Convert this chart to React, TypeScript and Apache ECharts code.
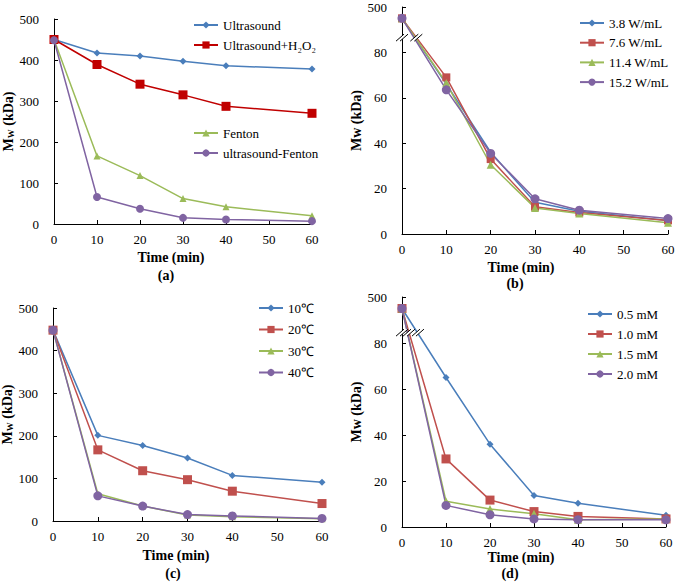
import React, { useEffect, useRef } from 'react';
import * as echarts from 'echarts';

// ---------- data ----------
const time = [0, 10, 20, 30, 40, 60];

// (a) treatment comparison, Mw (kDa)
const aUltrasound = [450, 417, 410, 397, 386, 378];
const aUltrasoundH2O2 = [450, 389, 341, 315, 287, 270];
const aFenton = [450, 166, 118, 62, 42, 20];
const aUltrasoundFenton = [448, 66, 37, 15, 11, 7];

// (b) ultrasound power density
const b38 = [450, 66, 36, 14, 10, 6];
const b76 = [450, 69, 33, 12, 9.5, 6];
const b114 = [450, 66.5, 30.5, 11.5, 9, 5];
const b152 = [450, 63.5, 35.5, 15.5, 10.5, 6.8];

// (c) temperature
const c10 = [448, 201, 177, 148, 107, 91];
const c20 = [448, 167, 118, 97, 70, 41];
const c30 = [448, 64, 35, 14, 10, 5];
const c40 = [448, 59, 35, 15, 12, 6];

// (d) Fe2+ concentration
const d05 = [450, 65, 36, 13.7, 10.3, 5.1];
const d10 = [450, 29.6, 11.7, 6.7, 4.6, 3.5];
const d15 = [450, 11.2, 7.8, 5.8, 3.2, 3.5];
const d20 = [450, 9.4, 5.3, 3.5, 3.2, 3.1];

const legendA1 = ['Ultrasound', 'Ultrasound+H₂O₂'];
const legendA2 = ['Fenton', 'ultrasound-Fenton'];
const legendB = ['3.8 W/mL', '7.6 W/mL', '11.4 W/mL', '15.2 W/mL'];
const legendC = ['10℃', '20℃', '30℃', '40℃'];
const legendD = ['0.5 mM', '1.0 mM', '1.5 mM', '2.0 mM'];

// broken y axis for (b),(d): 0..80 linear, then 300..500 compressed into 80..100
const BREAK_LOW = 80;
const BREAK_HIGH = 300;
const BREAK_RATIO = 10;
const toAxis = (v: number) => (v <= BREAK_LOW ? v : BREAK_LOW + (v - BREAK_HIGH) / BREAK_RATIO);
const fromAxis = (a: number) => (a <= BREAK_LOW ? a : BREAK_HIGH + (a - BREAK_LOW) * BREAK_RATIO);

const FONT = 'Liberation Serif, Times New Roman, serif';
const BLUE = '#4A7EBB';
const RED_A = '#C00000';
const RED = '#C0504D';
const GREEN = '#9BBB59';
const PURPLE = '#8064A2';

function mk(name: string, vals: number[], color: string, symbol: string, size: number, idx: number, broken = false) {
  return {
    name,
    type: 'line',
    xAxisIndex: idx,
    yAxisIndex: idx,
    data: time.map((t, i) => [t, broken ? toAxis(vals[i]) : vals[i]]),
    symbol,
    symbolSize: size,
    showSymbol: true,
    lineStyle: { color, width: 1.5 },
    itemStyle: { color, borderWidth: 0 },
    emphasis: { disabled: true },
  };
}

const grids = [
  { left: 54, top: 19, width: 258, height: 205 },
  { left: 402, top: 7, width: 266, height: 227 },
  { left: 53, top: 308, width: 269, height: 213 },
  { left: 402, top: 297, width: 264, height: 230 },
];

const axisLineStyle = { lineStyle: { color: '#000', width: 1 } };
const labelStyle = { fontFamily: FONT, fontSize: 13, color: '#000' };

function xAxis(i: number) {
  return {
    type: 'value',
    gridIndex: i,
    min: 0,
    max: 60,
    interval: 10,
    axisLine: { show: true, ...axisLineStyle },
    axisTick: { show: true, inside: true, length: 4, lineStyle: { color: '#000' } },
    axisLabel: { ...labelStyle, margin: 9 },
    splitLine: { show: false },
  };
}

function yAxis(i: number, broken: boolean) {
  const sub = broken
    ? { name: 'Mw (kDa)' }
    : { name: 'M{sub|W} (kDa)' };
  return {
    type: 'value',
    gridIndex: i,
    min: 0,
    max: broken ? 100 : 500,
    interval: broken ? 20 : 100,
    ...sub,
    nameLocation: 'middle',
    nameGap: broken ? 36 : 38,
    nameTextStyle: {
      fontFamily: FONT,
      fontSize: 14,
      fontWeight: 'bold',
      color: '#000',
      rich: { sub: { fontFamily: FONT, fontSize: 9, fontWeight: 'bold', color: '#000', verticalAlign: 'bottom', padding: [5, 0, 0, 0] } },
    },
    axisLine: { show: true, ...axisLineStyle },
    axisTick: { show: true, inside: true, length: 4, lineStyle: { color: '#000' } },
    axisLabel: {
      ...labelStyle,
      margin: 15,
      formatter: (v: number) => (broken ? String(fromAxis(v)) : String(v)),
    },
    splitLine: { show: false },
  };
}

function legend(data: string[], left: number, top: number, gap: number) {
  return {
    data,
    left,
    top,
    padding: 0,
    orient: 'vertical',
    itemWidth: 24,
    itemHeight: 9,
    itemGap: gap,
    selectedMode: false,
    textStyle: { fontFamily: FONT, fontSize: 13, color: '#000', lineHeight: 14 },
  };
}

function titleText(text: string, x: number, y: number) {
  return {
    type: 'text',
    x,
    y,
    style: { text, fontFamily: FONT, fontSize: 14, fontWeight: 'bold', fill: '#000', align: 'center', verticalAlign: 'middle' },
  };
}

function breakMark(cx: number, cy: number) {
  return {
    type: 'group',
    z: 100,
    children: [
      { type: 'polygon', z: 100, shape: { points: [[cx - 6, cy + 3.5], [cx + 2, cy - 3.5], [cx + 6, cy - 3.5], [cx - 2, cy + 3.5]] }, style: { fill: '#fff', stroke: null } },
      { type: 'line', z: 101, shape: { x1: cx - 6, y1: cy + 3.5, x2: cx + 2, y2: cy - 3.5 }, style: { stroke: '#000', lineWidth: 1 } },
      { type: 'line', z: 101, shape: { x1: cx - 2, y1: cy + 3.5, x2: cx + 6, y2: cy - 3.5 }, style: { stroke: '#000', lineWidth: 1 } },
    ],
  };
}

export default function App() {
  const ref = useRef<HTMLDivElement>(null);
  useEffect(() => {
    if (!ref.current) return;
    const chart = echarts.init(ref.current, undefined, { renderer: 'svg' });
    const option: any = {
      animation: false,
      backgroundColor: '#fff',
      textStyle: { fontFamily: FONT },
      grid: grids.map((g) => ({ ...g, containLabel: false, outerBoundsMode: 'none' })),
      xAxis: [0, 1, 2, 3].map((i) => xAxis(i)),
      yAxis: [yAxis(0, false), yAxis(1, true), yAxis(2, false), yAxis(3, true)],
      legend: [
        legend(legendA1, 193, 18, 6),
        legend(legendA2, 193, 126, 6),
        legend(legendB, 579, 16, 5.7),
        legend(legendC, 258, 301, 7.5),
        legend(legendD, 587, 307, 6),
      ],
      series: [
        mk(legendA1[0], aUltrasound, BLUE, 'diamond', 7, 0),
        mk(legendA1[1], aUltrasoundH2O2, RED_A, 'rect', 9, 0),
        mk(legendA2[0], aFenton, GREEN, 'triangle', 7, 0),
        mk(legendA2[1], aUltrasoundFenton, PURPLE, 'circle', 8, 0),
        mk(legendB[0], b38, BLUE, 'diamond', 6, 1, true),
        mk(legendB[1], b76, RED, 'rect', 8, 1, true),
        mk(legendB[2], b114, GREEN, 'triangle', 8, 1, true),
        mk(legendB[3], b152, PURPLE, 'circle', 9, 1, true),
        mk(legendC[0], c10, BLUE, 'diamond', 7, 2),
        mk(legendC[1], c20, RED, 'rect', 9, 2),
        mk(legendC[2], c30, GREEN, 'triangle', 7, 2),
        mk(legendC[3], c40, PURPLE, 'circle', 9, 2),
        mk(legendD[0], d05, BLUE, 'diamond', 7, 3, true),
        mk(legendD[1], d10, RED, 'rect', 9, 3, true),
        mk(legendD[2], d15, GREEN, 'triangle', 8, 3, true),
        mk(legendD[3], d20, PURPLE, 'circle', 9, 3, true),
      ],
    };
    chart.setOption(option);

    const px = (gridIndex: number, p: number[]) => chart.convertToPixel({ gridIndex } as any, p) as number[];
    const b1 = px(1, [0, 86.5]);
    const b2 = px(1, [3, 86.5]);
    const d1 = px(3, [0, 84.5]);
    const d2 = px(3, [1.6, 84.5]);
    const d3 = px(3, [3.4, 84.5]);

    chart.setOption({
      graphic: [
        titleText('Time (min)', 171, 257),
        titleText('(a)', 166, 275),
        titleText('Time (min)', 521, 267),
        titleText('(b)', 515, 283),
        titleText('Time (min)', 176, 555),
        titleText('(c)', 173, 573),
        titleText('Time (min)', 521, 557),
        titleText('(d)', 510, 573),
        breakMark(b1[0], b1[1]),
        breakMark(b2[0] + 1, b2[1]),
        breakMark(d1[0], d1[1]),
        breakMark(d2[0], d2[1]),
        breakMark(d3[0] + 1, d3[1]),
      ],
    });
    return () => chart.dispose();
  }, []);
  return <div ref={ref} style={{ position: 'fixed', left: 0, top: 0, width: 675, height: 583, background: '#fff' }} />;
}
